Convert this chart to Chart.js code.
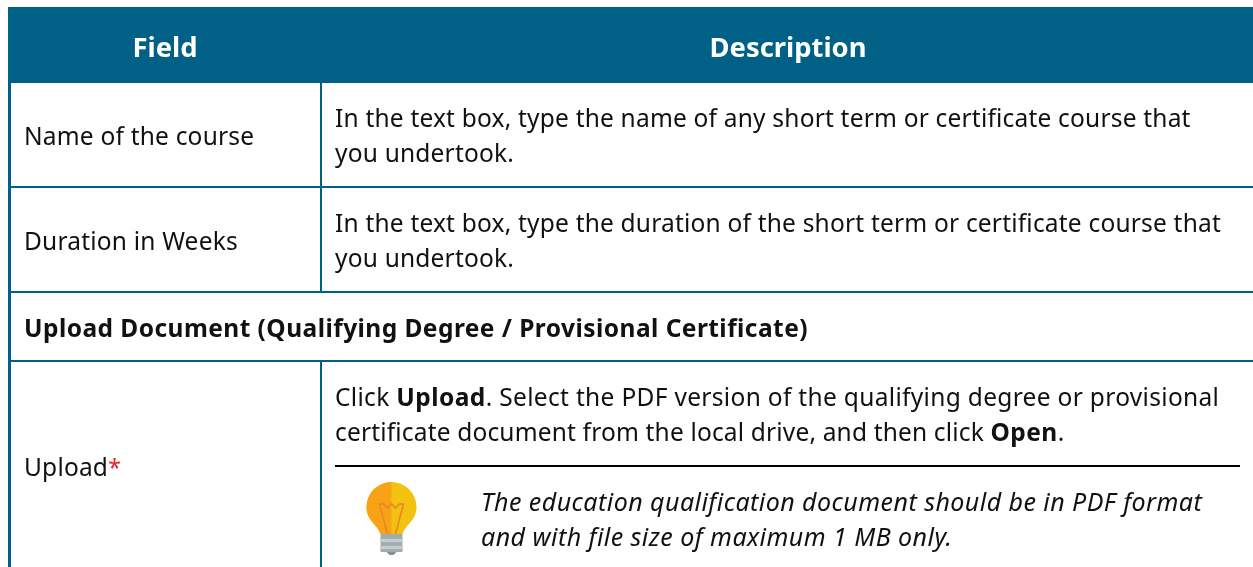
<!DOCTYPE html>
<html>
<head>
<meta charset="utf-8">
<style>
html, body { margin: 0; padding: 0; background: #fff; overflow: hidden; }
#wrap { width: 1253px; height: 567px; }
</style>
<script src="https://cdn.jsdelivr.net/npm/chart.js@4"></script>
</head>
<body>
<div id="wrap"><canvas id="myChart" width="1253" height="567"></canvas></div>
<script>
// table content
var headers = ['Field', 'Description'];
var rowNames = ['Name of the course', 'Duration in Weeks', 'Upload'];
var rowText1 = ['In the text box, type the name of any short term or certificate course that', 'you undertook.'];
var rowText2 = ['In the text box, type the duration of the short term or certificate course that', 'you undertook.'];
var sectionTitle = 'Upload Document (Qualifying Degree / Provisional Certificate)';
var uploadLine1 = [['Click ', false], ['Upload', true], ['. Select the PDF version of the qualifying degree or provisional', false]];
var uploadLine2 = [['certificate document from the local drive, and then click ', false], ['Open', true], ['.', false]];
var noteLines = ['The education qualification document should be in PDF format', 'and with file size of maximum 1 MB only.'];

var FONT = '"Noto Sans"';
var BLUE = '#006085';
var TEXT = '#111111';

function rule(x1, y1, x2, y2, w, c) {
    return { type: 'line', data: [{x: x1, y: y1}, {x: x2, y: y2}], borderColor: c || BLUE, borderWidth: w || 2, pointRadius: 0, fill: false, order: 1 };
}

function drawBulb(c, x, y) {
    // bulb glass, two tone
    c.save();
    c.beginPath();
    c.moveTo(x - 11, y + 27);
    c.bezierCurveTo(x - 14, y + 17, x - 25, y + 14, x - 25, y + 0);
    c.arc(x, y, 25, Math.PI, 0);
    c.bezierCurveTo(x + 25, y + 14, x + 14, y + 17, x + 11, y + 27);
    c.closePath();
    c.fillStyle = '#f3c20f';
    c.fill();
    c.clip();
    c.fillStyle = '#f9a215';
    c.fillRect(x - 26, y - 26, 26, 56);
    c.restore();
    // filament
    c.strokeStyle = '#e8872a';
    c.lineWidth = 1.6;
    c.beginPath();
    c.moveTo(x - 4, y + 27);
    c.lineTo(x - 12, y - 3);
    c.lineTo(x - 8, y - 3);
    c.lineTo(x - 4, y + 1);
    c.lineTo(x, y - 3);
    c.lineTo(x + 4, y + 1);
    c.lineTo(x + 8, y - 3);
    c.lineTo(x + 12, y - 3);
    c.lineTo(x + 4, y + 27);
    c.stroke();
    // base
    c.fillStyle = '#a3adad';
    c.fillRect(x - 11, y + 27, 22, 18);
    c.fillStyle = '#c6cccc';
    c.fillRect(x - 11, y + 32, 22, 3);
    c.fillRect(x - 11, y + 39, 22, 3);
    c.fillStyle = '#87918f';
    c.beginPath();
    c.moveTo(x - 5, y + 45);
    c.lineTo(x + 5, y + 45);
    c.lineTo(x + 2, y + 48);
    c.lineTo(x - 2, y + 48);
    c.closePath();
    c.fill();
}

var tableText = {
    id: 'tableText',
    afterDatasetsDraw: function(chart) {
        var c = chart.ctx, sx = chart.scales.x, sy = chart.scales.y;
        function put(str, x, y, font, color, align, ls) {
            c.font = font;
            c.letterSpacing = (ls || 0) + 'px';
            c.fillStyle = color || TEXT;
            c.textAlign = align || 'left';
            c.textBaseline = 'alphabetic';
            c.fillText(str, sx.getPixelForValue(x), sy.getPixelForValue(y));
        }
        var reg = '24.5px ' + FONT, bold = 'bold 24.5px ' + FONT, ital = 'italic 25px ' + FONT;
        var regLs = 0.2, boldLs = 0.45, italLs = 0.45;
        function runs(list, x, y, ls) {
            list.forEach(function(r) {
                put(r[0], x, y, r[1] ? bold : reg, TEXT, 'left', r[1] ? boldLs : ls);
                x += c.measureText(r[0]).width;
            });
        }
        put(headers[0], 165, 57, 'bold 27.4px ' + FONT, '#fff', 'center');
        put(headers[1], 788, 57, 'bold 27.4px ' + FONT, '#fff', 'center');
        put(rowNames[0], 24, 145, reg, TEXT, 'left', regLs);
        put(rowNames[1], 24, 250, reg, TEXT, 'left', regLs);
        put(rowNames[2], 24, 476, reg, TEXT, 'left', regLs);
        var w = c.measureText(rowNames[2]).width;
        put('*', 24 + w, 476, '23px ' + FONT, '#ee1c25');
        put(rowText1[0], 335, 127, reg, TEXT, 'left', regLs);
        put(rowText1[1], 335, 162, reg, TEXT, 'left', regLs);
        put(rowText2[0], 335, 232, reg, TEXT, 'left', regLs);
        put(rowText2[1], 335, 267, reg, TEXT, 'left', regLs);
        put(sectionTitle, 24, 337, bold, TEXT, 'left', boldLs);
        runs(uploadLine1, 335, 406, 0.32);
        runs(uploadLine2, 335, 441, 0.17);
        put(noteLines[0], 481, 511, ital, TEXT, 'left', italLs);
        put(noteLines[1], 481, 546, ital, TEXT, 'left', italLs);
        drawBulb(c, sx.getPixelForValue(391.5), sy.getPixelForValue(507));
    }
};

var ctx = document.getElementById('myChart').getContext('2d');
var myChart = new Chart(ctx, {
    type: 'line',
    data: {
        datasets: [
            // header band
            { type: 'line', data: [{x: 8, y: 7}, {x: 1253, y: 7}], borderWidth: 0, pointRadius: 0, fill: { value: 83 }, backgroundColor: BLUE, order: 2 },
            // horizontal rules
            rule(9, 187, 1253, 187, 2),
            rule(9, 292, 1253, 292, 2),
            rule(9, 361, 1253, 361, 2),
            rule(335, 466, 1240, 466, 2, '#000'),
            // vertical rules
            rule(9.5, 7, 9.5, 567, 3),
            rule(321, 83, 321, 292, 2),
            rule(321, 361, 321, 567, 2)
        ]
    },
    plugins: [tableText],
    options: {
        responsive: false,
        animation: false,
        layout: { padding: 0 },
        plugins: { legend: { display: false }, tooltip: { enabled: false } },
        scales: {
            x: { type: 'linear', min: 0, max: 1253, display: false },
            y: { type: 'linear', min: 0, max: 567, reverse: true, display: false }
        }
    }
});
</script>
</body>
</html>
